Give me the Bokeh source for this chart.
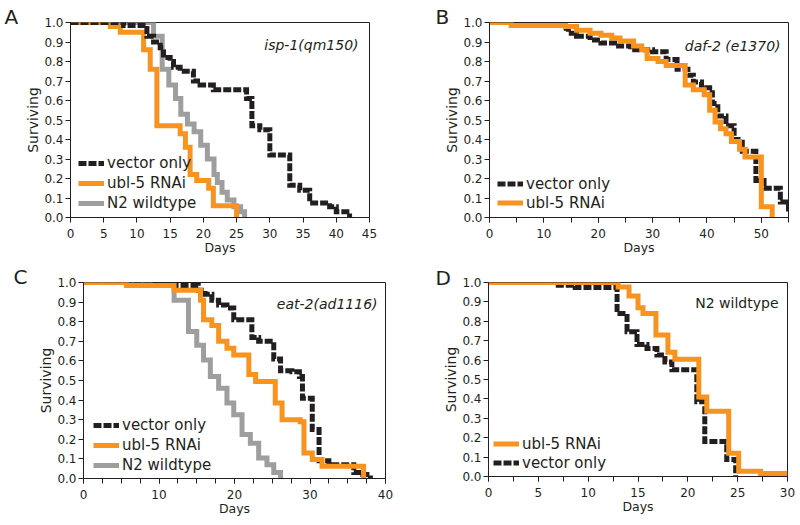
from bokeh.plotting import figure
from bokeh.models import (Range1d, SingleIntervalTicker, FixedTicker, PrintfTickFormatter,
                          Legend, LegendItem, Label)
from bokeh.layouts import column, row
from bokeh.embed import file_html
from bokeh.resources import INLINE

FONT = "DejaVu Sans"
BLACK = "#231F20"
ORANGE = "#F7931E"
GRAY = "#9E9E9E"

Y_TICKS = [0.0, 0.1, 0.2, 0.3, 0.4, 0.5, 0.6, 0.7, 0.8, 0.9, 1.0]

# ---- Panel A : isp-1(qm150) ----
A_VEC_T = [0, 8, 11.5, 12.5, 13.5, 14, 15, 15.5, 16.5, 18.5, 19.5, 21.5, 26.5, 27.3, 28.5, 30, 33, 34.5, 36, 39, 40, 42]
A_VEC_S = [1.0, 0.985, 0.93, 0.90, 0.87, 0.82, 0.80, 0.77, 0.75, 0.70, 0.68, 0.655, 0.61, 0.47, 0.45, 0.32, 0.165, 0.14, 0.075, 0.055, 0.03, 0.0]
A_UBL_T = [0, 6, 7.5, 11, 12, 13, 16.5, 17.3, 18, 19, 20.8, 21.5, 25]
A_UBL_S = [1.0, 0.98, 0.95, 0.86, 0.76, 0.47, 0.43, 0.36, 0.22, 0.19, 0.15, 0.06, 0.0]
A_N2_T = [0, 12.5, 13.8, 14.8, 15.8, 16.6, 17.6, 18.6, 19.6, 20.6, 21.6, 22.1, 22.8, 23.6, 24.6, 25.6, 26.2]
A_N2_S = [1.0, 0.93, 0.76, 0.68, 0.61, 0.53, 0.48, 0.44, 0.37, 0.30, 0.22, 0.18, 0.13, 0.09, 0.055, 0.03, 0.0]

# ---- Panel B : daf-2 (e1370) ----
B_VEC_T = [0, 13.5, 14.5, 16, 18.5, 20.5, 23, 26, 30, 32.5, 34.5, 36.5, 37.5, 39, 40.5, 41, 42, 43.5, 45, 46.5, 49, 50.5, 53.5, 55]
B_VEC_S = [1.0, 0.97, 0.945, 0.93, 0.91, 0.895, 0.88, 0.86, 0.85, 0.81, 0.76, 0.73, 0.695, 0.665, 0.64, 0.585, 0.52, 0.47, 0.40, 0.34, 0.19, 0.15, 0.08, 0.03]
B_UBL_T = [0, 4, 14, 16, 18.5, 20.5, 22.5, 24, 26.5, 28, 29, 31, 32.5, 36, 37.5, 39.5, 40.5, 41.5, 42.5, 43.5, 44.5, 46, 47, 50, 52]
B_UBL_S = [1.0, 0.985, 0.98, 0.96, 0.945, 0.935, 0.92, 0.905, 0.88, 0.86, 0.815, 0.80, 0.78, 0.68, 0.655, 0.63, 0.55, 0.49, 0.455, 0.43, 0.39, 0.35, 0.31, 0.055, 0.0]

# ---- Panel C : eat-2(ad1116) ----
C_VEC_T = [0, 10, 15.2, 16.1, 17, 17.9, 19, 19.9, 22.3, 23.2, 25.2, 26.1, 27.6, 28.6, 29, 30.3, 31.2, 32.5, 35.8, 37, 38]
C_VEC_S = [1.0, 0.985, 0.96, 0.94, 0.91, 0.885, 0.87, 0.81, 0.72, 0.70, 0.61, 0.55, 0.545, 0.52, 0.41, 0.25, 0.09, 0.07, 0.03, 0.02, 0.0]
C_UBL_T = [0, 5.7, 12, 15.5, 15.9, 17, 17.9, 19, 19.9, 21.9, 22.8, 25.4, 26.3, 28.7, 29.2, 30.3, 31.6, 37.1]
C_UBL_S = [1.0, 0.985, 0.96, 0.91, 0.81, 0.78, 0.70, 0.665, 0.63, 0.53, 0.495, 0.385, 0.30, 0.29, 0.13, 0.097, 0.063, 0.0]
C_N2_T = [0, 8.8, 12, 13.9, 15, 15.9, 16.8, 17.9, 19, 19.9, 21, 22.1, 23.2, 24.3, 25.2, 26.1]
C_N2_S = [1.0, 0.985, 0.91, 0.75, 0.68, 0.605, 0.52, 0.46, 0.385, 0.325, 0.224, 0.18, 0.105, 0.07, 0.03, 0.0]

# ---- Panel D : N2 wildtype ----
D_UBL_T = [0, 13.0, 14.1, 15.0, 15.5, 16.8, 18.0, 18.7, 21.1, 21.9, 24.1, 25.1, 27.3, 30]
D_UBL_S = [1.0, 0.977, 0.93, 0.87, 0.84, 0.73, 0.64, 0.605, 0.41, 0.336, 0.12, 0.027, 0.015, 0.015]
D_VEC_T = [0, 6.7, 8.7, 12.9, 13.9, 14.9, 15.9, 16.9, 17.7, 18.4, 20.9, 21.7, 23.9, 24.8]
D_VEC_S = [1.0, 0.986, 0.974, 0.84, 0.746, 0.68, 0.66, 0.626, 0.59, 0.55, 0.385, 0.18, 0.087, 0.0]

LBL_VEC = "vector only"
LBL_UBL = "ubl-5 RNAi"
LBL_N2 = "N2 wildtype"


def make_panel(letter, letter_offset, letter_standoff, letter_lh,
               xmax, interval, n_minor, fw, fh, bl, br, bt, bb):
    p = figure(frame_width=fw, frame_height=fh, x_range=Range1d(0, xmax), y_range=Range1d(0, 1.0),
               output_backend="svg", toolbar_location=None, title=letter,
               min_border_left=bl, min_border_right=br, min_border_top=bt, min_border_bottom=bb)
    p.title.align = "left"
    p.title.vertical_align = "bottom"
    p.title.offset = letter_offset
    p.title.standoff = letter_standoff
    p.title.text_line_height = letter_lh
    p.title.text_font = FONT
    p.title.text_font_size = "20px"
    p.title.text_font_style = "normal"
    p.title.text_color = BLACK
    p.xgrid.visible = False
    p.ygrid.visible = False
    p.outline_line_color = BLACK
    p.outline_line_width = 1
    p.outline_line_alpha = 1
    p.background_fill_color = "white"
    p.border_fill_color = "white"
    p.xaxis.ticker = SingleIntervalTicker(interval=interval, num_minor_ticks=n_minor)
    p.yaxis.ticker = FixedTicker(ticks=Y_TICKS)
    p.yaxis.formatter = PrintfTickFormatter(format="%.1f")
    p.xaxis.axis_label = "Days"
    p.yaxis.axis_label = "Surviving"
    for ax in (p.xaxis[0], p.yaxis[0]):
        ax.axis_line_color = BLACK
        ax.axis_line_width = 1
        ax.major_tick_line_color = BLACK
        ax.minor_tick_line_color = BLACK
        ax.major_tick_out = 5
        ax.major_tick_in = 0
        ax.minor_tick_out = 5
        ax.minor_tick_in = 0
        ax.major_label_text_font = FONT
        ax.major_label_text_font_size = "12px"
        ax.major_label_text_color = BLACK
        ax.axis_label_text_font = FONT
        ax.axis_label_text_font_style = "normal"
        ax.axis_label_text_color = BLACK
    p.xaxis.major_label_standoff = 6
    p.yaxis.major_label_standoff = 2
    p.xaxis.axis_label_text_font_size = "12.5px"
    p.yaxis.axis_label_text_font_size = "14px"
    p.xaxis.axis_label_standoff = -1
    p.yaxis.axis_label_standoff = 0
    return p


def curve(p, t, s, color, dashed=False):
    return p.step(t, s, mode="after", line_color=color, line_width=5,
                  line_dash="8 2" if dashed else "solid", line_join="miter", line_cap="butt")


def add_legend(p, items, loc, row_h):
    leg = Legend(items=[LegendItem(label=l, renderers=[r]) for l, r in items], location=loc,
                 orientation="vertical", border_line_color=None, background_fill_alpha=0,
                 padding=0, margin=0, spacing=0, glyph_width=26, glyph_height=row_h,
                 label_height=row_h, label_standoff=3, label_text_font=FONT,
                 label_text_font_size="15px", label_text_color=BLACK)
    p.add_layout(leg)


def add_text(p, x, y, text, size, style="normal", align="left"):
    p.add_layout(Label(x=x, y=y, x_units="screen", y_units="screen", text=text,
                       text_align=align, text_baseline="alphabetic", text_font=FONT,
                       text_font_size=size, text_font_style=style, text_color=BLACK))


# Panel A  (canvas 400 x 256)
pA = make_panel("A", -66, -13, 1.0, 45, 5, 0, 299, 195, 70, 31, 22, 39)
rA_n2 = curve(pA, A_N2_T, A_N2_S, GRAY)
rA_ubl = curve(pA, A_UBL_T, A_UBL_S, ORANGE)
rA_vec = curve(pA, A_VEC_T, A_VEC_S, BLACK, dashed=True)
add_legend(pA, [(LBL_VEC, rA_vec), (LBL_UBL, rA_ubl), (LBL_N2, rA_n2)], (8, 4), 20)
add_text(pA, 288, 173, "isp-1(qm150)", "14px", "italic", "right")

# Panel B  (canvas 400 x 256)
pB = make_panel("B", -54, -13, 1.0, 55, 10, 2, 299, 195, 89, 12, 22, 39)
rB_vec = curve(pB, B_VEC_T, B_VEC_S, BLACK, dashed=True)
rB_ubl = curve(pB, B_UBL_T, B_UBL_S, ORANGE)
add_legend(pB, [(LBL_VEC, rB_vec), (LBL_UBL, rB_ubl)], (8, 5), 19)
add_text(pB, 291, 172, "daf-2 (e1370)", "14px", "italic", "right")

# Panel C  (canvas 400 x 269)
pC = make_panel("C", -70, -13, 1.5, 40, 10, 4, 302, 196, 83, 15, 25, 48)
rC_n2 = curve(pC, C_N2_T, C_N2_S, GRAY)
rC_vec = curve(pC, C_VEC_T, C_VEC_S, BLACK, dashed=True)
rC_ubl = curve(pC, C_UBL_T, C_UBL_S, ORANGE)
add_legend(pC, [(LBL_VEC, rC_vec), (LBL_UBL, rC_ubl), (LBL_N2, rC_n2)], (10, 3), 20)
add_text(pC, 294, 175, "eat-2(ad1116)", "14px", "italic", "right")

# Panel D  (canvas 400 x 269)
pD = make_panel("D", -53, -15, 1.5, 30, 5, 2, 299, 194, 88, 13, 23, 52)
rD_vec = curve(pD, D_VEC_T, D_VEC_S, BLACK, dashed=True)
rD_ubl = curve(pD, D_UBL_T, D_UBL_S, ORANGE)
add_legend(pD, [(LBL_UBL, rD_ubl), (LBL_VEC, rD_vec)], (5, 4), 19)
add_text(pD, 290, 174, "N2 wildtype", "14px", "normal", "right")

layout = column(row(pA, pB), row(pC, pD))
open("out.html", "w").write(file_html(layout, INLINE))
